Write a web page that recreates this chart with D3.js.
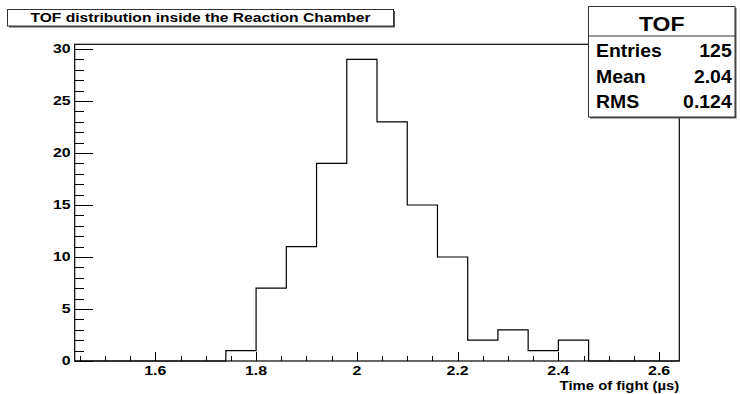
<!DOCTYPE html>
<html>
<head>
<meta charset="utf-8">
<script src="https://cdn.jsdelivr.net/npm/d3@7"></script>
<style>
  body { margin: 0; background: #fff; }
  text { font-family: "Liberation Sans", Arial, Helvetica, sans-serif; font-weight: bold; fill: #000; }
</style>
</head>
<body>
<div id="chart"></div>
<script>
// histogram data: 20 bins of 0.06 us from 1.44 to 2.64
var binEdges = [1.44, 1.50, 1.56, 1.62, 1.68, 1.74, 1.80, 1.86, 1.92, 1.98, 2.04,
                2.10, 2.16, 2.22, 2.28, 2.34, 2.40, 2.46, 2.52, 2.58, 2.64];
var binCounts = [0, 0, 0, 0, 0, 1, 7, 11, 19, 29, 23, 15, 10, 2, 3, 1, 2, 0, 0, 0];

var xTicks = [1.6, 1.8, 2.0, 2.2, 2.4, 2.6];
var yTicks = [0, 5, 10, 15, 20, 25, 30];

var statNames = ["Entries", "Mean", "RMS"];
var statValues = ["125", "2.04", "0.124"];

var svgWidth = 740;
var svgHeight = 394;

var margin = { top: 44.3, right: 60.7, bottom: 33, left: 74.7 };
var width = svgWidth - margin.left - margin.right;
var height = svgHeight - margin.top - margin.bottom;

var svg = d3.select("#chart")
  .append("svg")
  .attr("width", svgWidth)
  .attr("height", svgHeight);

var chartGroup = svg.append("g")
  .attr("transform", `translate(${margin.left}, ${margin.top})`);

var x = d3.scaleLinear()
  .domain([binEdges[0], binEdges[binEdges.length - 1]])
  .range([0, width]);

var y = d3.scaleLinear()
  .domain([0, d3.max(binCounts) * 1.05])
  .range([height, 0]);

// text drawn a bit wider than the font, like the original output
function wideText(g, tx, ty, str, size, anchor, sx) {
  return g.append("text")
    .attr("transform", `translate(${tx}, ${ty}) scale(${sx}, 1)`)
    .attr("text-anchor", anchor)
    .style("font-size", size + "px")
    .text(str);
}

// minor ticks
var xMinor = d3.range(29).map(i => 1.45 + i * 0.05).filter(v => v < 2.64);
var yMinor = d3.range(31);

chartGroup.append("g")
  .attr("transform", `translate(0, ${height})`)
  .call(d3.axisBottom(x).tickValues(xMinor).tickSize(-4.75).tickFormat(""))
  .call(g => g.select(".domain").remove());

chartGroup.append("g")
  .call(d3.axisLeft(y).tickValues(yMinor).tickSize(-9).tickFormat(""))
  .call(g => g.select(".domain").remove());

// major ticks
chartGroup.append("g")
  .attr("transform", `translate(0, ${height})`)
  .call(d3.axisBottom(x).tickValues(xTicks).tickSize(-9.5).tickFormat(""))
  .call(g => g.select(".domain").remove());

chartGroup.append("g")
  .call(d3.axisLeft(y).tickValues(yTicks).tickSize(-18).tickFormat(""))
  .call(g => g.select(".domain").remove());

chartGroup.selectAll(".tick line")
  .attr("stroke", "#000")
  .attr("shape-rendering", "crispEdges");

// tick labels
xTicks.forEach(function(v) {
  wideText(chartGroup, x(v), height + 14.3, d3.format("")(v), 12, "middle", 1.33);
});
yTicks.forEach(function(v) {
  wideText(chartGroup, -4, y(v) + 4.4, v, 12, "end", 1.33);
});

// frame
chartGroup.append("rect")
  .attr("x", 0)
  .attr("y", 0)
  .attr("width", width)
  .attr("height", height)
  .attr("fill", "none")
  .attr("stroke", "#000")
  .attr("stroke-width", 1.2);

// histogram outline
var pts = [[x(binEdges[0]), y(0)]];
binCounts.forEach(function(c, i) {
  pts.push([x(binEdges[i]), y(c)]);
  pts.push([x(binEdges[i + 1]), y(c)]);
});
pts.push([x(binEdges[binEdges.length - 1]), y(0)]);

chartGroup.append("path")
  .attr("d", d3.line()(pts))
  .attr("fill", "none")
  .attr("stroke", "#000")
  .attr("stroke-width", 1.2);

// axis title
wideText(chartGroup, width, height + 28.5, "Time of fight (\u00b5s)", 12.5, "end", 1.19);

// title box
function paveBox(x0, y0, w, h) {
  svg.append("rect")
    .attr("x", x0 + 1.5).attr("y", y0 + 1.5)
    .attr("width", w).attr("height", h)
    .attr("fill", "#555");
  svg.append("rect")
    .attr("x", x0).attr("y", y0)
    .attr("width", w).attr("height", h)
    .attr("fill", "#fff")
    .attr("stroke", "#333")
    .attr("stroke-width", 1);
}

paveBox(7.5, 9.5, 386, 16.5);
wideText(svg, 200.5, 22, "TOF distribution inside the Reaction Chamber", 13, "middle", 1.2);

// stats box
var statX = 588.5, statY = 6.5, statW = 146.5, statH = 110.5;
paveBox(statX, statY, statW, statH);

svg.append("line")
  .attr("x1", statX).attr("x2", statX + statW)
  .attr("y1", 36).attr("y2", 36)
  .attr("stroke", "#333");

wideText(svg, statX + statW / 2, 31, "TOF", 20, "middle", 1.15);

var rowY = d3.scaleLinear().domain([0, 2]).range([56.7, 108.3]);
statNames.forEach(function(n, i) {
  wideText(svg, 596, rowY(i), n, 18, "start", 1.08);
  wideText(svg, 731.7, rowY(i), statValues[i], 18, "end", 1.08);
});
</script>
</body>
</html>
